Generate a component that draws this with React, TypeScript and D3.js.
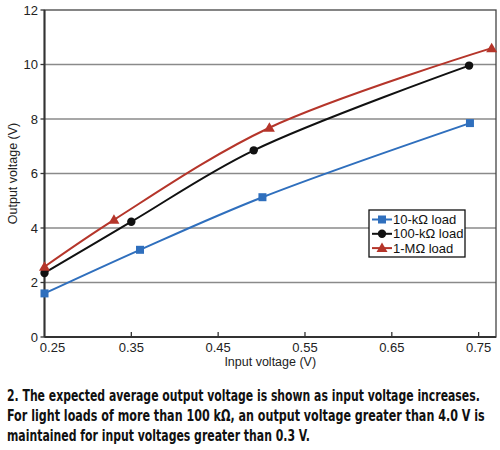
import React, { useLayoutEffect, useRef } from "react";
import * as d3 from "d3";

const xTicks = [0.25, 0.35, 0.45, 0.55, 0.65, 0.75];
const yTicks = [0, 2, 4, 6, 8, 10, 12];

const load10k_x = [0.25, 0.36, 0.501, 0.74];
const load10k_y = [1.6, 3.2, 5.13, 7.85];
const load100k_x = [0.25, 0.35, 0.491, 0.739];
const load100k_y = [2.35, 4.23, 6.85, 9.96];
const load1M_x = [0.25, 0.33, 0.509, 0.765];
const load1M_y = [2.58, 4.3, 7.68, 10.6];

const seriesNames = ["10-kΩ load", "100-kΩ load", "1-MΩ load"];
const seriesColors = ["#2f6fbd", "#111111", "#b5352a"];
const seriesMarkers = ["square", "circle", "triangle"];

const captionLines = [
  "2. The expected average output voltage is shown as input voltage increases.",
  "For light loads of more than 100 kΩ, an output voltage greater than 4.0 V is",
  "maintained for input voltages greater than 0.3 V.",
];
const captionWidths = [473, 478, 303];

const W = 500;
const H = 450;
const L = 44.5, R = 496, T = 10, B = 337;

function Marker({ type, x, y, color }: { type: string; x: number; y: number; color: string }) {
  if (type === "square") return <rect x={x - 4} y={y - 4} width={8} height={8} fill={color} />;
  if (type === "circle") return <circle cx={x} cy={y} r={4.2} fill={color} />;
  return <path d={`M${x},${y - 5.5}L${x + 5.5},${y + 4}L${x - 5.5},${y + 4}Z`} fill={color} />;
}

export default function App() {
  const capRefs = useRef<(SVGTextElement | null)[]>([]);
  useLayoutEffect(() => {
    capRefs.current.forEach((el, i) => {
      if (!el) return;
      const len = el.getComputedTextLength();
      if (len > 0) {
        const sx = captionWidths[i] / len;
        el.setAttribute("transform", `translate(7,${401 + i * 20}) scale(${sx},1)`);
      }
    });
  }, []);

  const x = d3.scaleLinear().domain([0.25, 0.77]).range([L, R]);
  const y = d3.scaleLinear().domain([0, 12]).range([B, T]);
  const series = [
    { xs: load10k_x, ys: load10k_y },
    { xs: load100k_x, ys: load100k_y },
    { xs: load1M_x, ys: load1M_y },
  ];
  const line = d3
    .line<[number, number]>()
    .x((d) => x(d[0]))
    .y((d) => y(d[1]))
    .curve(d3.curveCatmullRom.alpha(0.5));

  const font = "'Liberation Sans', Arial, sans-serif";
  const lgX = 369, lgY = 210, lgW = 96, lgH = 47;

  return (
    <svg width={W} height={H} style={{ position: "absolute", left: 0, top: 0, background: "#fff" }}>
      <rect x={0} y={0} width={W} height={H} fill="#fff" />
      {yTicks.map((t) => (
        <g key={"y" + t}>
          {t > 0 && t < 12 && <line x1={L} x2={R} y1={y(t)} y2={y(t)} stroke="#8a8a8a" strokeWidth={1.3} />}
          <line x1={L - 4} x2={L} y1={y(t)} y2={y(t)} stroke="#333" strokeWidth={1.3} />
          <text x={38} y={y(t)} dy="0.35em" textAnchor="end" fontFamily={font} fontSize={13} fill="#222">
            {t}
          </text>
        </g>
      ))}
      {xTicks.map((t) => (
        <g key={"x" + t}>
          {t > 0.25 && <line x1={x(t)} x2={x(t)} y1={B} y2={B - 5} stroke="#333" strokeWidth={1.3} />}
          <text x={x(t) + (t === 0.25 ? 8 : 0)} y={352} textAnchor="middle" fontFamily={font} fontSize={13} fill="#222">
            {t.toFixed(2)}
          </text>
        </g>
      ))}
      <rect x={L} y={T} width={R - L} height={B - T} fill="none" stroke="#444" strokeWidth={1.3} />
      <line x1={L} x2={L} y1={T} y2={B} stroke="#333" strokeWidth={2} />
      <line x1={L} x2={R} y1={B} y2={B} stroke="#333" strokeWidth={2} />
      {series.map((s, i) => {
        const pts = s.xs.map((v, j) => [v, s.ys[j]] as [number, number]);
        return (
          <g key={"s" + i}>
            <path d={line(pts) || ""} fill="none" stroke={seriesColors[i]} strokeWidth={2} />
            {pts.map((p, j) => (
              <Marker key={j} type={seriesMarkers[i]} x={x(p[0])} y={y(p[1])} color={seriesColors[i]} />
            ))}
          </g>
        );
      })}
      <rect x={lgX} y={lgY} width={lgW} height={lgH} fill="#fff" stroke="#111" strokeWidth={1.3} />
      {seriesNames.map((n, i) => {
        const cy = lgY + 9.5 + i * 14.3;
        return (
          <g key={"l" + i}>
            <line x1={lgX + 3} x2={lgX + 23} y1={cy} y2={cy} stroke={seriesColors[i]} strokeWidth={2} />
            <Marker type={seriesMarkers[i]} x={lgX + 13} y={cy} color={seriesColors[i]} />
            <text x={lgX + 24} y={cy} dy="0.35em" fontFamily={font} fontSize={13} fill="#111">
              {n}
            </text>
          </g>
        );
      })}
      <text x={(L + R) / 2} y={366} textAnchor="middle" fontFamily={font} fontSize={12.5} fill="#222">
        Input voltage (V)
      </text>
      <text
        transform={`translate(17,${(T + B) / 2}) rotate(-90)`}
        textAnchor="middle"
        fontFamily={font}
        fontSize={12.5}
        fill="#222"
      >
        Output voltage (V)
      </text>
      {captionLines.map((c, i) => (
        <text
          key={"c" + i}
          ref={(el) => {
            capRefs.current[i] = el;
          }}
          transform={`translate(7,${401 + i * 20}) scale(0.8,1)`}
          fontFamily="'DejaVu Sans Condensed', 'Liberation Sans Narrow', 'Liberation Sans', sans-serif"
          fontWeight="bold"
          fontSize={16.5}
          fill="#111"
        >
          {c}
        </text>
      ))}
    </svg>
  );
}
